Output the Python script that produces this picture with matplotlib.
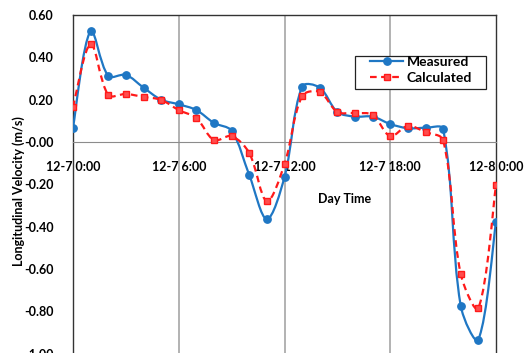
import matplotlib
matplotlib.use('Agg')
import matplotlib.pyplot as plt
import numpy as np
from matplotlib.path import Path
from matplotlib.patches import PathPatch, Rectangle
from matplotlib.lines import Line2D

# hours since 12-7 0:00
hours = list(range(25))
measured = [0.068, 0.525, 0.312, 0.317, 0.257, 0.200, 0.178, 0.151, 0.090, 0.053,
            -0.156, -0.364, -0.165, 0.262, 0.257, 0.142, 0.120, 0.120, 0.085, 0.065,
            0.067, 0.061, -0.775, -0.933, -0.377]
calculated = [0.165, 0.463, 0.222, 0.227, 0.213, 0.199, 0.151, 0.113, 0.009, 0.028,
              -0.052, -0.279, -0.104, 0.217, 0.236, 0.142, 0.137, 0.128, 0.028, 0.076,
              0.047, 0.009, -0.624, -0.785, -0.203]
tick_hours = [0, 6, 12, 18, 24]
tick_labels = ['12-7 0:00', '12-7 6:00', '12-7 12:00', '12-7 18:00', '12-8 0:00']

plt.rcParams['font.family'] = ['Lato', 'DejaVu Sans']
plt.rcParams['font.weight'] = 'bold'

BLUE = '#1F77C4'
RED = '#FF1A1A'
FS = 9
W, H = 527, 353


# smooth line like excel: bezier through every point, handles scaled by
# the length of each neighbouring segment (measured in pixels)
def smooth_path(x, y, sx=17.6, sy=211.5):
    x = np.asarray(x, float)
    y = np.asarray(y, float)
    n = len(x)
    px, py = x * sx, y * sy
    seg = np.hypot(np.diff(px), np.diff(py))
    cin = [None] * n
    cout = [None] * n
    for i in range(n):
        i0 = max(i - 1, 0)
        i1 = min(i + 1, n - 1)
        tx, ty = x[i1] - x[i0], y[i1] - y[i0]
        dp = seg[i - 1] if i > 0 else 0.0
        dn = seg[i] if i < n - 1 else 0.0
        tot = dp + dn
        kp = dp / tot / 3 if tot else 0
        kn = dn / tot / 3 if tot else 0
        if i == 0 or i == n - 1:
            kp = kn = 1 / 6
        cin[i] = (x[i] - tx * kp, y[i] - ty * kp)
        cout[i] = (x[i] + tx * kn, y[i] + ty * kn)
    verts = [(x[0], y[0])]
    codes = [Path.MOVETO]
    for i in range(n - 1):
        verts += [cout[i], cin[i + 1], (x[i + 1], y[i + 1])]
        codes += [Path.CURVE4] * 3
    return Path(verts, codes)


fig = plt.figure(figsize=(W / 100, H / 100), dpi=100)
ax = fig.add_axes([73 / W, -0.002, 423 / W, 0.9595])

ax.add_patch(PathPatch(smooth_path(hours, measured), fill=False, edgecolor=BLUE, lw=1.6, zorder=3))
ax.plot(hours, measured, ls='none', marker='o', ms=5.3, color=BLUE, zorder=4)
ax.add_patch(PathPatch(smooth_path(hours, calculated), fill=False, edgecolor=RED, lw=1.6,
                       ls=(0, (3, 2)), zorder=5))
ax.plot(hours, calculated, ls='none', marker='s', ms=4.2, color=RED, mfc='#FF4D4D', zorder=6)

ax.set_xlim(0, 24)
ax.set_ylim(-1.0, 0.6)
yt = np.arange(-1.0, 0.61, 0.2)
ax.set_yticks(yt)
ax.set_yticklabels(['%.2f' % v for v in yt])
ax.set_xticks(tick_hours)
ax.set_xticklabels(tick_labels)
ax.tick_params(length=0, labelsize=FS)
ax.tick_params(axis='y', pad=14)
ax.tick_params(axis='x', pad=13.5)

# x axis sits at zero
ax.spines['bottom'].set_position(('data', 0))
ax.spines['bottom'].set_color('#8c8c8c')
for s in ['left', 'top', 'right']:
    ax.spines[s].set_color('#333333')
    ax.spines[s].set_linewidth(1.0)

for h in [6, 12, 18]:
    ax.axvline(h, color='#a6a6a6', lw=1.2, zorder=1)

fig.text(345 / W, 1 - 199 / H, 'Day Time', ha='center', va='center',
         fontsize=FS, fontweight='bold')
fig.text(19 / W, 1 - 191 / H, 'Longitudinal Velocity (m/s)', rotation=90,
         ha='center', va='center', fontsize=FS, fontweight='bold')

# legend box drawn by hand, entries from ax.legend without frame
ax.add_patch(Rectangle((355 / W, 1 - 89 / H), 131 / W, 33 / H, transform=fig.transFigure,
                       facecolor='white', edgecolor='#222222', lw=0.9, zorder=8, clip_on=False))
handles = [Line2D([], [], color=BLUE, lw=1.6, marker='o', ms=5.3),
           Line2D([], [], color=RED, lw=1.6, ls=(0, (3, 2)), marker='s', ms=4.2, mfc='#FF4D4D')]
leg = ax.legend(handles, ['Measured', 'Calculated'], loc='upper left',
                bbox_to_anchor=(370 / W, 1 - 56 / H), bbox_transform=fig.transFigure,
                frameon=False, fontsize=10, handlelength=2.4, borderpad=0,
                labelspacing=0.3, handletextpad=0.25, borderaxespad=0)
leg.set_zorder(9)

fig.savefig('out.png', dpi=100)
